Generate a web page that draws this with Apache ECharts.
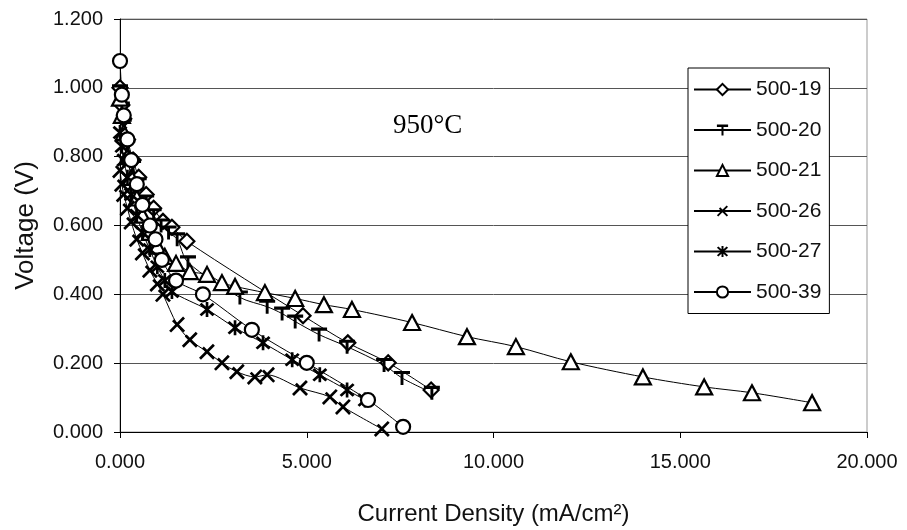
<!DOCTYPE html>
<html lang="en">
<head>
    <meta charset="UTF-8">
    <title>Voltage vs Current Density 950°C</title>
    <script src="https://cdn.jsdelivr.net/npm/echarts@6/dist/echarts.min.js"></script>
    <style>
        body { margin: 0; background: #fff; }
    </style>
</head>
<body>
    <div id="main" style="width: 907px; height: 530px;"></div>
    <script>
        // [current density (mA/cm2), voltage (V)]
        var s500_19 = [[0.0, 1.00], [0.05, 0.95], [0.1, 0.91], [0.2, 0.85], [0.35, 0.79], [0.5, 0.74], [0.7, 0.69], [0.9, 0.65], [1.15, 0.612], [1.39, 0.595], [1.79, 0.554], [4.9, 0.338], [6.1, 0.259], [7.18, 0.201], [8.33, 0.122]];
        var s500_20 = [[0.0, 0.99], [0.05, 0.94], [0.1, 0.89], [0.2, 0.83], [0.35, 0.77], [0.5, 0.72], [0.7, 0.67], [0.9, 0.63], [1.1, 0.60], [1.3, 0.58], [1.53, 0.56], [1.82, 0.493], [3.21, 0.391], [3.94, 0.364], [4.34, 0.344], [4.69, 0.321], [5.33, 0.283], [6.08, 0.248], [7.07, 0.195], [7.55, 0.157], [8.35, 0.114]];
        var s500_21 = [[0.0, 0.97], [0.05, 0.92], [0.1, 0.87], [0.2, 0.80], [0.3, 0.74], [0.45, 0.68], [0.6, 0.63], [0.8, 0.58], [1.0, 0.54], [1.2, 0.51], [1.5, 0.49], [1.87, 0.466], [2.33, 0.458], [2.73, 0.434], [3.08, 0.423], [3.88, 0.405], [4.69, 0.388], [5.46, 0.370], [6.21, 0.356], [7.82, 0.318], [9.29, 0.277], [10.6, 0.248], [12.07, 0.204], [14.0, 0.160], [15.64, 0.131], [16.92, 0.114], [18.53, 0.085]];
        var s500_26 = [[0.0, 0.76], [0.05, 0.72], [0.1, 0.69], [0.2, 0.65], [0.3, 0.61], [0.45, 0.56], [0.6, 0.52], [0.8, 0.47], [1.0, 0.43], [1.15, 0.40], [1.53, 0.312], [1.87, 0.268], [2.33, 0.233], [2.73, 0.201], [3.13, 0.175], [3.61, 0.160], [3.94, 0.166], [4.82, 0.128], [5.62, 0.102], [5.97, 0.073], [7.01, 0.009]];
        var s500_27 = [[0.0, 0.87], [0.05, 0.83], [0.1, 0.79], [0.2, 0.74], [0.3, 0.69], [0.45, 0.63], [0.6, 0.58], [0.8, 0.53], [1.0, 0.48], [1.2, 0.44], [1.39, 0.408], [2.33, 0.356], [3.08, 0.303], [3.83, 0.259], [4.61, 0.210], [5.35, 0.166], [6.08, 0.122], [6.56, 0.093]];
        var s500_39 = [[0.0, 1.078], [0.05, 0.98], [0.1, 0.92], [0.2, 0.85], [0.3, 0.79], [0.45, 0.72], [0.6, 0.66], [0.8, 0.60], [0.95, 0.56], [1.12, 0.50], [1.5, 0.44], [2.22, 0.40], [3.53, 0.297], [5.0, 0.201], [6.64, 0.093], [7.58, 0.015]];

        var names = ['500-19', '500-20', '500-21', '500-26', '500-27', '500-39'];
        var yTicks = [0, 0.2, 0.4, 0.6, 0.8, 1.0, 1.2];
        var xTicks = [0, 5, 10, 15, 20];

        // marker shapes
        var tShape = 'path://M0,0H10V2H5.9V9H4.1V2H0Z';
        var xShape = 'path://M0,8.8L8.7,0.1L9.9,1.3L1.2,10Z M1.8,3L3,1.8L10,8.8L8.8,10Z';
        var starShape = 'path://M4.2,0H5.8V10H4.2Z M0.5,1.7L1.7,0.5L9.5,8.3L8.3,9.5Z M8.3,0.5L9.5,1.7L1.7,9.5L0.5,8.3Z';

        var font = 'Liberation Sans, Arial, sans-serif';

        function mk(name, data, symbol, size, hollow) {
            return {
                name: name,
                type: 'line',
                data: data,
                smooth: 0.3,
                symbol: symbol,
                symbolSize: size,
                showAllSymbol: true,
                lineStyle: { color: '#000', width: 1 },
                itemStyle: hollow ? { color: '#fff', borderColor: '#000', borderWidth: 2.2 } : { color: '#000', borderWidth: 0 },
                emphasis: { disabled: true },
                z: 3
            };
        }

        var myChart = echarts.init(document.getElementById('main'));

        var option = {
            backgroundColor: '#fff',
            animation: false,
            grid: {
                left: 120, right: 40, top: 19, bottom: 98,
                containLabel: false,
                outerBoundsMode: 'none',
                show: true, borderColor: '#999', borderWidth: 1
            },
            legend: {
                orient: 'vertical',
                left: 688, top: 68,
                padding: [11, 8, 11, 5],
                itemWidth: 57, itemHeight: 14, itemGap: 19.5,
                backgroundColor: '#fff',
                borderColor: '#000', borderWidth: 1,
                textStyle: { fontFamily: font, fontSize: 21, lineHeight: 14, color: '#111' },
                data: names
            },
            xAxis: {
                type: 'value',
                min: xTicks[0], max: xTicks[xTicks.length - 1], interval: 5,
                name: 'Current Density (mA/cm²)',
                nameLocation: 'middle', nameGap: 70,
                nameTextStyle: { fontFamily: font, fontSize: 24, color: '#111' },
                axisLine: { show: true, onZero: false, lineStyle: { color: '#000' } },
                axisTick: { show: true, length: 6, lineStyle: { color: '#000' } },
                axisLabel: {
                    margin: 20, fontFamily: font, fontSize: 20, color: '#111',
                    formatter: function (v) { return v.toFixed(3); }
                },
                splitLine: { show: false }
            },
            yAxis: {
                type: 'value',
                min: yTicks[0], max: yTicks[yTicks.length - 1], interval: 0.2,
                name: 'Voltage (V)',
                nameLocation: 'middle', nameGap: 81,
                nameTextStyle: { fontFamily: font, fontSize: 26, color: '#111' },
                axisLine: { show: true, lineStyle: { color: '#000' } },
                axisTick: { show: true, length: 6, lineStyle: { color: '#000' } },
                axisLabel: {
                    margin: 17, fontFamily: font, fontSize: 20, color: '#111',
                    formatter: function (v) { return v.toFixed(3); }
                },
                splitLine: { show: true, lineStyle: { color: '#555', width: 1 } }
            },
            graphic: [{
                type: 'text',
                left: 393, top: 112,
                style: { text: '950°C', font: '27px "Liberation Serif", "Times New Roman", serif', fill: '#000' }
            }],
            series: [
                mk(names[0], s500_19, 'diamond', 15, true),
                mk(names[1], s500_20, tShape, [16, 14], false),
                mk(names[2], s500_21, 'triangle', [16, 15], true),
                mk(names[3], s500_26, xShape, 16, false),
                mk(names[4], s500_27, starShape, 15, false),
                mk(names[5], s500_39, 'circle', 14, true)
            ]
        };

        myChart.setOption(option);
    </script>
</body>
</html>
